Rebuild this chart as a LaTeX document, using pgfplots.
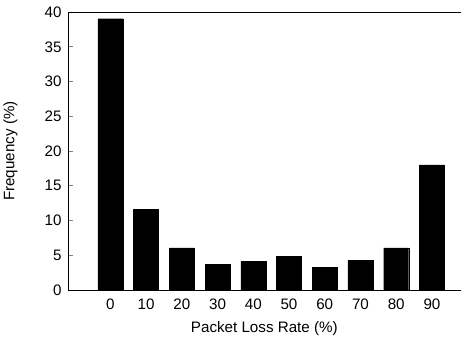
\documentclass[border=0pt]{standalone}
\usepackage{fontspec}
\setmainfont{Liberation Sans}
\usepackage{pgfplots}
\pgfplotsset{compat=1.18}
\begin{document}
\begin{tikzpicture}
\begin{axis}[
  scale only axis, width=388pt, height=274.7pt,
  xmin=-11.8, xmax=98, ymin=0, ymax=40,
  axis x line*=box, axis y line*=left,
  axis line style={-, line width=0.9pt},
  xtick={0,10,...,90}, ytick={0,5,...,40},
  xtick style={draw=none},
  tick align=inside, major tick length=4.5pt,
  ytick style={line width=0.9pt},
  font=\fontsize{15}{18}\selectfont,
  /pgf/number format/assume math mode=true,
  xticklabel style={yshift=-5pt},
  yticklabel style={xshift=-3pt},
  xlabel={Packet Loss Rate (\%)},
  ylabel={Frequency (\%)},
  every axis x label/.style={at={(axis description cs:0.5,-0.139)}, anchor=center},
  every axis y label/.style={at={(axis description cs:-0.147,0.5)}, rotate=90, anchor=center},
]
\addplot[ybar, bar width=7, fill=black, draw=black] coordinates {
(0,39.05) (10,11.65) (20,6.05) (30,3.7) (40,4.1) (50,4.85) (60,3.3) (70,4.25) (80,6.05) (90,18.0)
};
\end{axis}
\path (current axis.north) -- ++(0,12pt);
\end{tikzpicture}
\end{document}
